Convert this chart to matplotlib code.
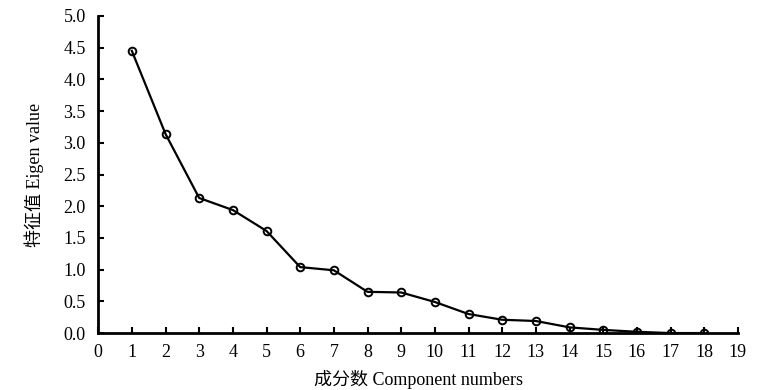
import numpy as np
import matplotlib.pyplot as plt

plt.rcParams['font.family'] = ['Liberation Serif', 'Noto Sans CJK SC']

components = [1, 2, 3, 4, 5, 6, 7, 8, 9, 10, 11, 12, 13, 14, 15, 16, 17, 18]
eigen = [4.45, 3.14, 2.13, 1.94, 1.61, 1.04, 0.99, 0.65, 0.64, 0.49,
         0.30, 0.21, 0.19, 0.09, 0.05, 0.02, 0.0, 0.0]
xticks = list(range(0, 20))
yticks = [0.0, 0.5, 1.0, 1.5, 2.0, 2.5, 3.0, 3.5, 4.0, 4.5, 5.0]

fig = plt.figure(figsize=(7.67, 3.90), dpi=100)
ax = fig.add_axes([0.128, 0.146, 0.834, 0.813])

ax.plot(components, eigen, color='black', linewidth=1.6, marker='o',
        markersize=5.5, markerfacecolor='none', markeredgewidth=1.4)

ax.set_xlim(0, 19)
ax.set_ylim(0, 5.0)
ax.set_xticks(xticks)
ax.set_yticks(yticks)
ax.set_yticklabels(['%.1f' % v for v in yticks])
ax.tick_params(direction='in', length=4, width=1.5, labelsize=13)
ax.tick_params(axis='x', pad=8)
ax.tick_params(axis='y', pad=9)
ax.spines['top'].set_visible(False)
ax.spines['right'].set_visible(False)
ax.spines['left'].set_linewidth(2)
ax.spines['bottom'].set_linewidth(2)

ax.set_xlabel('成分数 Component numbers', fontsize=13, labelpad=6)
ax.set_ylabel('特征值 Eigen value', fontsize=13, labelpad=14)

fig.savefig('out.png', dpi=100)
